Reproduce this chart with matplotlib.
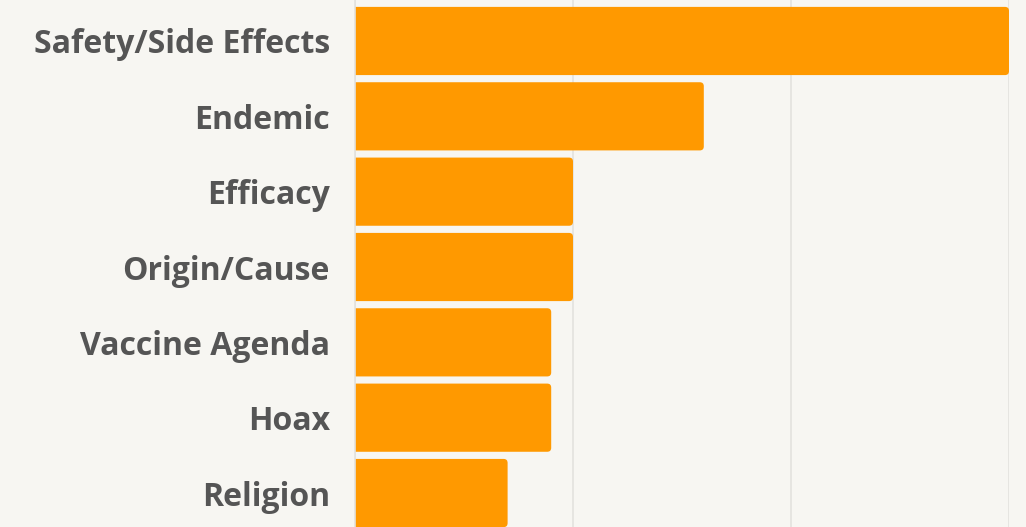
import matplotlib
matplotlib.use("Agg")
import matplotlib.pyplot as plt
from matplotlib.patches import FancyBboxPatch

categories = ["Safety/Side Effects", "Endemic", "Efficacy", "Origin/Cause",
              "Vaccine Agenda", "Hoax", "Religion"]
values = [30, 16, 10, 10, 9, 9, 7]
grid_ticks = [0, 10, 20, 30]

BG = "#F7F6F2"
BAR = "#FF9900"
TXT = "#555555"
GRID = "#E3E2DE"

W, H = 1026, 527
fig = plt.figure(figsize=(W / 100, H / 100), dpi=100, facecolor=BG)
ax = fig.add_axes([355 / W, 0, (1009 - 355) / W, 1])
ax.set_facecolor(BG)

pos = list(range(len(categories)))
bars = ax.barh(pos, values, height=0.905, color=BAR)

ax.set_xlim(0, 30)
ax.set_ylim(6.451, -0.544)

# rounded right corners
xpx = (1009 - 355) / 30.0
ypx = 75.33
r_px = 4
for b in bars:
    b.set_visible(False)
    x0, y0, w, h = b.get_x(), b.get_y(), b.get_width(), b.get_height()
    p = FancyBboxPatch((x0 - 1, y0), w + 1, h,
                       boxstyle=f"round,pad=0,rounding_size={r_px / xpx}",
                       mutation_aspect=(xpx / ypx),
                       facecolor=BAR, edgecolor="none", zorder=3)
    ax.add_patch(p)

ax.set_xticks(grid_ticks)
ax.xaxis.grid(True, color=GRID, linewidth=1.2, zorder=0)
ax.set_axisbelow(True)
ax.tick_params(axis="x", length=0, labelbottom=False)
ax.set_yticks(pos)
ax.set_yticklabels(categories, fontfamily="Open Sans", fontweight="bold",
                   fontsize=23, color=TXT)
ax.tick_params(axis="y", length=0, pad=18)
for s in ["top", "right", "bottom"]:
    ax.spines[s].set_visible(False)
ax.spines["left"].set_color(GRID)
ax.spines["left"].set_linewidth(1.2)
ax.spines["left"].set_zorder(4)

fig.savefig("out.png", dpi=100, facecolor=BG)
